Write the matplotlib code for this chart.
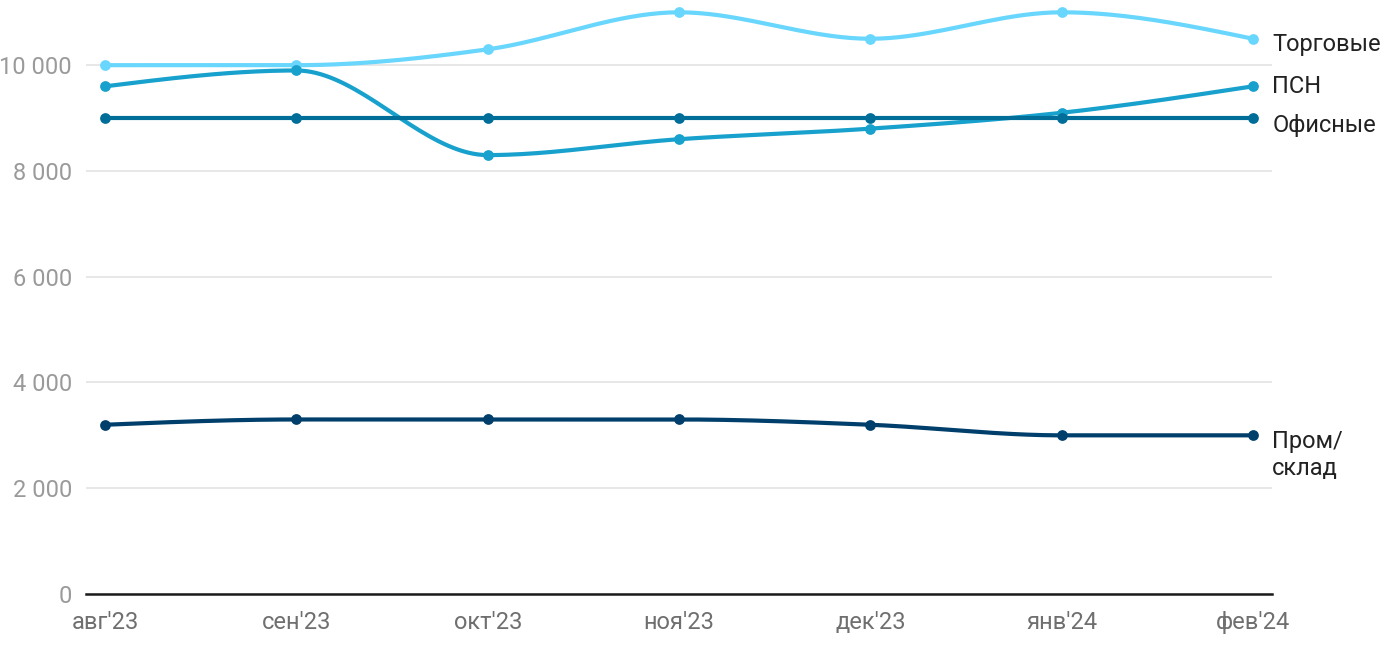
import numpy as np
from matplotlib import pyplot as plt

plt.rcParams['font.family'] = ['Roboto', 'DejaVu Sans']

# chart data
months = ["авг'23", "сен'23", "окт'23", "ноя'23", "дек'23", "янв'24", "фев'24"]
trade = [10000, 10000, 10300, 11000, 10500, 11000, 10500]
psn = [9600, 9900, 8300, 8600, 8800, 9100, 9600]
office = [9000, 9000, 9000, 9000, 9000, 9000, 9000]
industrial = [3200, 3300, 3300, 3300, 3200, 3000, 3000]

series = [
    ("Торговые", trade, "#69d6fd", (14, -4)),
    ("ПСН", psn, "#18a1cd", (14, 0)),
    ("Офисные", office, "#006e99", (14, -5)),
    ("Пром/\nсклад", industrial, "#003f6b", (14, -14)),
]


def monotone_curve(x, y, steps=40):
    # monotone cubic (same idea as d3 curveMonotoneX), just for drawing
    x = np.asarray(x, float)
    y = np.asarray(y, float)
    h = np.diff(x)
    s = np.diff(y) / h
    n = len(x)
    t = np.zeros(n)
    for i in range(1, n - 1):
        p = (s[i - 1] * h[i] + s[i] * h[i - 1]) / (h[i - 1] + h[i])
        t[i] = (np.sign(s[i - 1]) + np.sign(s[i])) * min(abs(s[i - 1]), abs(s[i]), 0.5 * abs(p))
    t[0] = (3 * s[0] - t[1]) / 2
    t[-1] = (3 * s[-1] - t[-2]) / 2
    xs, ys = [], []
    for i in range(n - 1):
        u = np.linspace(0, 1, steps)
        h00 = 2 * u**3 - 3 * u**2 + 1
        h10 = u**3 - 2 * u**2 + u
        h01 = -2 * u**3 + 3 * u**2
        h11 = u**3 - u**2
        xs.extend(x[i] + u * h[i])
        ys.extend(h00 * y[i] + h10 * h[i] * t[i] + h01 * y[i + 1] + h11 * h[i] * t[i + 1])
    return np.array(xs), np.array(ys)


fig = plt.figure(figsize=(14, 6.5), dpi=100)
ax = fig.add_axes([0.0614, 0.0862, 0.8472, 0.903])

xpos = np.arange(len(months))
for name, values, color, offset in series:
    cx, cy = monotone_curve(xpos, values)
    ax.plot(cx, cy, color=color, lw=3, solid_capstyle='round', zorder=3)
    ax.scatter(xpos, values, s=60, color=color, zorder=4, linewidths=0)
    ax.annotate(name, (xpos[-1], values[-1]), xytext=offset, textcoords='offset points',
                fontsize=17, color='#222222', va='center', ha='left',
                linespacing=1.2, annotation_clip=False)

ax.set_xlim(-0.1, len(months) - 0.9)
ax.set_ylim(0, 11100)
ax.set_yticks(range(0, 10001, 2000))
ax.set_yticklabels([f"{v:,}".replace(",", " ") for v in range(0, 10001, 2000)])
ax.set_xticks(xpos)
ax.set_xticklabels(months)

ax.grid(axis='y', color='#e3e3e3', lw=1.2)
ax.set_axisbelow(True)
for side in ['top', 'right', 'left']:
    ax.spines[side].set_visible(False)
ax.spines['bottom'].set_color('#1a1a1a')
ax.spines['bottom'].set_linewidth(1.8)
ax.tick_params(axis='y', length=0, pad=10, labelsize=17, labelcolor='#9a9a9a')
ax.tick_params(axis='x', length=0, pad=12, labelsize=17, labelcolor='#6f6f6f')

fig.savefig('out.png', dpi=100, facecolor='white')
